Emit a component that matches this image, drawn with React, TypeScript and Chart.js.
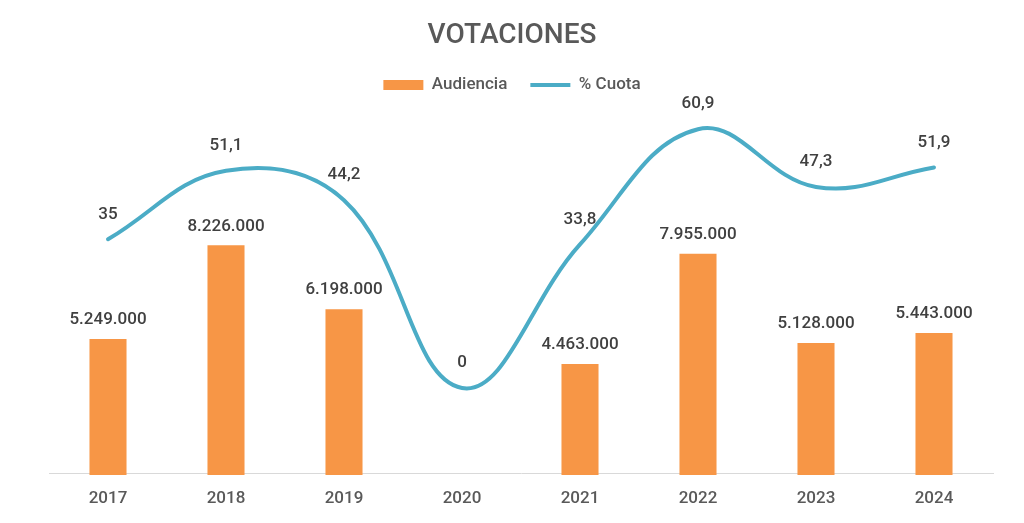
import { useEffect, useRef } from 'react';
import { Chart, registerables } from 'chart.js';

Chart.register(...registerables);

// Yearly audience and share figures
const years = ['2017', '2018', '2019', '2020', '2021', '2022', '2023', '2024'];
const audiencia = [5249000, 8226000, 6198000, 0, 4463000, 7955000, 5128000, 5443000];
const cuota = [35, 51.1, 44.2, 0, 33.8, 60.9, 47.3, 51.9];

const ORANGE = '#F79646';
const BLUE = '#4BACC6';
const FONT = 'Roboto, "Noto Sans", sans-serif';

const fmtAudiencia = (v: number) =>
  String(Math.round(v)).replace(/\B(?=(\d{3})+(?!\d))/g, '.');
const fmtCuota = (v: number) => String(v).replace('.', ',');

// Writes each value above its bar / line point
const valueLabels = {
  id: 'valueLabels',
  afterDatasetsDraw(chart: any) {
    const ctx = chart.ctx;
    ctx.save();
    ctx.font = `500 17px ${FONT}`;
    ctx.fillStyle = '#404040';
    ctx.textAlign = 'center';
    ctx.textBaseline = 'middle';
    chart.data.datasets.forEach((ds: any, i: number) => {
      const meta = chart.getDatasetMeta(i);
      meta.data.forEach((el: any, j: number) => {
        const v = ds.data[j] as number;
        if (ds.type === 'bar') {
          if (!v) return;
          ctx.fillText(fmtAudiencia(v), el.x, el.y - 19);
        } else {
          ctx.fillText(fmtCuota(v), el.x, el.y - 25);
        }
      });
    });
    ctx.restore();
  },
};

export default function App() {
  const ref = useRef<HTMLCanvasElement>(null);

  useEffect(() => {
    const chart = new Chart(ref.current as HTMLCanvasElement, {
      type: 'bar',
      data: {
        labels: years,
        datasets: [
          {
            type: 'bar',
            label: 'Audiencia',
            data: audiencia,
            backgroundColor: ORANGE,
            borderWidth: 0,
            yAxisID: 'y',
            order: 2,
            categoryPercentage: 1,
            barPercentage: 0.314,
            pointStyle: 'rect',
            clip: { left: 0, top: 0, right: 0, bottom: 2 },
          } as any,
          {
            type: 'line',
            label: '% Cuota',
            data: cuota,
            borderColor: BLUE,
            backgroundColor: BLUE,
            borderWidth: 4,
            tension: 0.4,
            pointRadius: 0,
            pointHoverRadius: 0,
            yAxisID: 'y1',
            order: 1,
            pointStyle: 'line',
            borderCapStyle: 'round',
            borderJoinStyle: 'round',
          } as any,
        ],
      },
      options: {
        responsive: false,
        animation: false,
        events: [],
        layout: { padding: { left: 31, right: 31, top: 0, bottom: 0 } },
        plugins: {
          title: {
            display: true,
            text: 'VOTACIONES',
            color: '#595959',
            font: { family: FONT, size: 28, weight: '500' },
            padding: { top: 19, bottom: 1 },
          },
          legend: {
            display: true,
            position: 'top',
            labels: {
              usePointStyle: true,
              pointStyleWidth: 40,
              boxHeight: 10,
              padding: 23,
              color: '#595959',
              font: { family: FONT, size: 17, weight: '500' },
              sort: (a: any, b: any) => a.datasetIndex - b.datasetIndex,
            },
          },
          tooltip: { enabled: false },
        },
        scales: {
          x: {
            offset: true,
            grid: { display: false, drawTicks: false },
            border: { display: true, color: '#D9D9D9', width: 1 },
            ticks: {
              color: '#595959',
              font: { family: FONT, size: 17, weight: '500' },
              padding: 16,
            },
            afterFit: (s: any) => {
              s.height = 50;
            },
          },
          y: {
            position: 'left',
            min: 1000000,
            max: 12723000,
            grid: { display: false },
            border: { display: false },
            ticks: { display: false },
            afterFit: (s: any) => {
              s.width = 18;
            },
          },
          y1: {
            position: 'right',
            display: false,
            min: -20,
            max: 66.92,
          },
        },
      } as any,
      plugins: [valueLabels],
    });
    return () => chart.destroy();
  }, []);

  return (
    <div style={{ position: 'fixed', left: 0, top: 0, width: 1024, height: 523, background: '#fff' }}>
      <canvas ref={ref} width={1024} height={523} style={{ display: 'block' }} />
    </div>
  );
}
